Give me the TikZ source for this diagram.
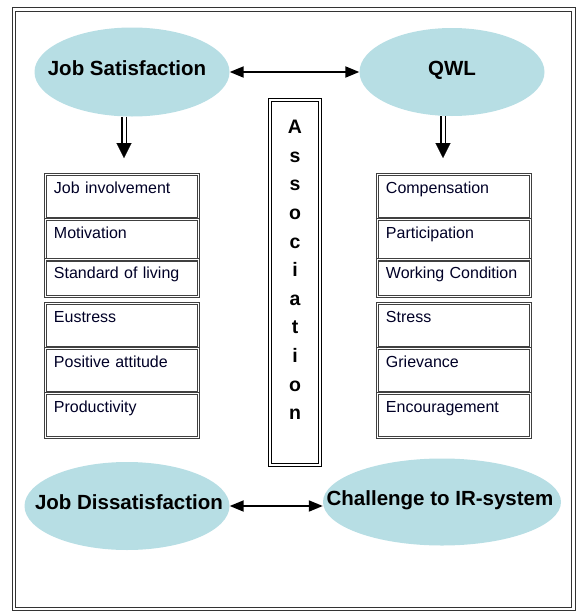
\documentclass[tikz,border=0pt]{standalone}
\usepackage{fontspec}
\setmainfont{Liberation Sans}
\usetikzlibrary{shapes.geometric,positioning,arrows.meta}
\definecolor{ovalblue}{RGB}{183,222,228}

\tikzset{
	oval/.style={ellipse, fill=ovalblue, inner sep=0pt},
	ovaltext/.style={inner sep=0pt, font=\fontsize{20.5}{24}\selectfont\bfseries, text height=15pt, text depth=8pt},
	item/.style={draw=black!75, double=white, double distance=1.4pt, line width=0.9pt,
		text width=136pt, inner xsep=8.5pt, inner ysep=5pt, align=left,
		font=\fontsize{16}{19}\selectfont, text=black!85!blue, text height=14pt, text depth=#1},
	item/.default=20pt,
	link/.style={{Triangle[length=14pt,width=11pt]}-{Triangle[length=14pt,width=11pt]}, line width=1.9pt},
	feed/.style={double, double distance=3pt, line width=1.1pt},
	feedtip/.style={-{Triangle[length=15pt,width=15pt]}, line width=0.1pt, shorten >=16pt},
	assocbox/.style={draw, double, double distance=2.5pt, line width=1pt},
}

\begin{document}
\begin{tikzpicture}[x=1pt,y=-1pt]
		\useasboundingbox (0,0) rectangle (579,611);
		\draw[double, double distance=2.5pt, line width=1pt, draw=black!80] (14,9.5) rectangle (573.5,609);

		\node[oval, minimum width=195pt, minimum height=89pt] (js) at (132,72) {};
		\node[ovaltext] (jstext) at ([xshift=-5pt]js.center) {Job Satisfaction};
		\node[oval, minimum width=185pt, minimum height=88pt] (qwl) at (452,72) {};
		\node[ovaltext] (qwltext) at (qwl) {QWL};
		\node[oval, minimum width=205pt, minimum height=88pt] (jd) at (127,506) {};
		\node[ovaltext] (jdtext) at ([xshift=2pt]jd.center) {Job Dissatisfaction};
		\node[oval, minimum width=238pt, minimum height=87pt] (ch) at (442,502) {};
		\node[ovaltext] (chtext) at ([xshift=-2pt]ch.center) {Challenge to IR-system};

		\draw[link] (js) -- (qwl);
		\draw[link] (jd.east) -- (jd.east -| ch.west);

		\node[item, anchor=north west] (ji) at (45,174) {Job involvement};
		\node[item=17pt, below=0pt of ji] (mo) {Motivation};
		\node[item=13pt, below=-2pt of mo] (sl) {Standard of living};
		\node[item, anchor=north west] (eu) at (45,303) {Eustress};
		\node[item, below=0pt of eu] (pa) {Positive attitude};
		\node[item, below=0pt of pa] (pr) {Productivity};

		\node[item, anchor=north west] (co) at (377,174) {Compensation};
		\node[item=17pt, below=0pt of co] (pt) {Participation};
		\node[item=13pt, below=-2pt of pt] (wc) {Working Condition};
		\node[item, anchor=north west] (st) at (377,303) {Stress};
		\node[item, below=0pt of st] (gr) {Grievance};
		\node[item, below=0pt of gr] (en) {Encouragement};

		\coordinate (jsfoot) at (124,143);
		\coordinate (qwlfoot) at (443,143);
		\draw[feed] (jsfoot |- js.south) -- (jsfoot);
		\draw[feedtip] (jsfoot) -- (jsfoot |- ji.north);
		\draw[feed] (qwlfoot |- qwl.south) -- (qwlfoot);
		\draw[feedtip] (qwlfoot) -- (qwlfoot |- co.north);

		\node[assocbox, minimum width=50pt, minimum height=365pt] (assoc) at (295,282.5) {};
		\node[align=center, font=\fontsize{19.5}{28.6}\selectfont\bfseries] (word) at ([yshift=12.5pt]assoc.center)
			{A\\s\\s\\o\\c\\i\\a\\t\\i\\o\\n};
	\end{tikzpicture}
\end{document}
